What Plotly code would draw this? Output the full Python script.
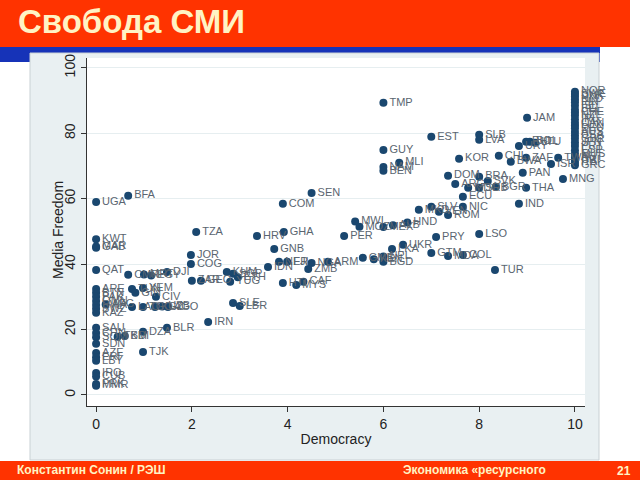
import plotly.graph_objects as go

# country codes, democracy score, media freedom score
codes = [
    "UGA", "KWT", "GAB", "MAR", "QAT", "CMR", "MRT", "EGY", "DJI",
    "ARE", "BTN", "PAK", "OMN", "RWA", "SWZ", "KAZ", "AFG",
    "TUN", "GIN", "YEM", "CIV", "LAO", "TGO", "KGZ", "UZB", "AGO",
    "SAU", "CHN", "SOM", "SDN", "BDI", "TKM", "DZA", "BLR", "TJK", "IRN",
    "AZE", "ERI", "LBY", "IRQ", "CUB", "PRK", "MMR", "BFA",
    "TZA", "JOR", "COG", "ZAR", "GEO", "YUG", "KHM", "SGP", "ETH", "SLE", "LBR",
    "HRV", "GHA", "GNB", "IDN", "NER", "FJI", "NGA", "ARM", "ZMB",
    "HTI", "MYS", "CAF", "COM", "SEN",
    "PER", "MWI", "MOZ", "MEX", "ALB", "HND",
    "GMB", "KEN", "NPL", "BGD", "LKA", "UKR",
    "TMP", "GUY", "MLI", "NAM", "BEN",
    "EST", "SLB", "LVA", "JAM", "URY", "PHL", "BOL", "LTU",
    "CHL", "KOR", "BWA", "ZAF", "TWN", "ISR", "PAN", "MNG", "THA", "BGR",
    "DOM", "BRA", "ARG", "MDG", "SRB", "SVK", "ECU", "IND", "SLV", "NIC", "ROM",
    "MKD", "VEN", "PRY", "LSO", "GTM", "MDA", "COL", "TUR",
    "NOR", "SWE", "DNK", "NLD", "FIN", "ISL", "BEL", "CHE", "NZL", "IRL",
    "CAN", "LUX", "DEU", "AUS", "USA", "GBR", "JPN", "PRT", "ESP", "MUS",
    "AUT", "CRI", "ITA", "GRC",
]
democracy = [
    0, 0, 0, 0, 0, 0.67, 1.0, 1.15, 1.48,
    0, 0, 0, 0, 0, 0, 0, 0.2,
    0.75, 0.82, 0.98, 1.25, 0.75, 0.98, 1.23, 1.38, 1.5,
    0, 0, 0, 0, 0.6, 0.45, 0.98, 1.48, 0.98, 2.34,
    0, 0, 0, 0, 0, 0, 0, 0.67,
    2.09, 1.98, 1.98, 2.0, 2.19, 2.8, 2.73, 2.86, 2.96, 2.86, 3.0,
    3.36, 3.92, 3.72, 3.59, 3.82, 3.99, 4.5, 4.84, 4.43,
    3.9, 4.18, 4.33, 3.9, 4.5,
    5.18, 5.41, 5.5, 6.0, 6.2, 6.5,
    5.57, 5.8, 6.0, 6.0, 6.18, 6.41,
    6.0, 6.0, 6.33, 6.0, 6.0,
    7.0, 8.0, 8.0, 9.0, 8.83, 8.98, 9.06, 9.17,
    8.41, 7.58, 8.66, 8.98, 9.65, 9.5, 8.91, 9.75, 8.98, 8.35,
    7.35, 8.0, 7.5, 7.77, 8.0, 8.18, 7.66, 8.83, 7.0, 7.66, 7.35,
    6.74, 7.16, 7.1, 8.0, 7.0, 7.35, 7.66, 8.33,
    10, 10, 10, 10, 10, 10, 10, 10, 10, 10,
    10, 10, 10, 10, 10, 10, 10, 10, 10, 10,
    10, 10, 10, 10,
]
media_freedom = [
    59.0, 47.6, 45.0, 45.4, 38.2, 36.7, 36.8, 36.5, 37.6,
    32.4, 31.2, 30.0, 28.7, 27.5, 26.3, 25.1, 27.6,
    32.4, 31.2, 32.7, 30.0, 26.9, 26.9, 26.9, 27.0, 26.9,
    20.5, 18.9, 17.6, 15.6, 18.0, 17.8, 19.3, 20.5, 13.1, 22.3,
    12.8, 11.5, 10.4, 6.7, 5.6, 3.3, 2.8, 60.9,
    49.8, 42.8, 40.0, 34.9, 34.9, 34.6, 37.6, 37.0, 36.0, 28.1, 27.2,
    48.6, 49.8, 44.6, 39.1, 40.7, 40.7, 40.3, 40.7, 38.5,
    34.2, 33.6, 34.6, 58.4, 61.7,
    48.6, 53.0, 51.4, 51.3, 51.9, 52.7,
    41.9, 41.5, 42.3, 40.7, 44.6, 45.9,
    89.3, 74.9, 71.0, 69.7, 68.5,
    78.9, 79.5, 78.0, 84.7, 76.1, 77.4, 77.4, 77.1,
    73.1, 72.2, 71.3, 72.5, 72.5, 70.6, 67.9, 66.0, 63.3, 63.6,
    67.0, 66.7, 64.5, 63.3, 63.3, 65.4, 60.6, 58.4, 57.5, 57.5, 55.0,
    56.6, 56.0, 48.3, 49.2, 43.4, 42.5, 42.8, 38.2,
    92.7, 92.0, 91.2, 90.3, 89.5, 88.4, 87.2, 86.3, 85.4, 84.3,
    83.2, 82.4, 81.5, 80.4, 79.3, 78.3, 77.2, 76.1, 74.8, 73.7,
    72.6, 71.8, 71.0, 70.2,
]

W, H = 640, 480
ML, MR, MT, MB = 87, 55, 58, 74
PW, PH = W - ML - MR, H - MT - MB


def fx(px):
    return (px - ML) / PW


def fy(py):
    return (H - MB - py) / PH


RED = "#FF3300"
CREAM = "#FFF3C4"
PANEL = "#E9F0F2"

fig = go.Figure()
fig.add_trace(go.Scatter(
    x=democracy, y=media_freedom, text=codes,
    mode="markers+text", textposition="middle right",
    marker=dict(color="#1A476F", size=8),
    textfont=dict(family="Liberation Sans, Arial", size=11, color="#5A6570"),
    cliponaxis=False, hoverinfo="skip"))

shapes = [
    # blue band under title bar
    dict(type="rect", xref="paper", yref="paper", x0=fx(0), x1=fx(600), y0=fy(62), y1=fy(44),
         fillcolor="#1633B8", line_width=0, layer="below"),
    # red title bar
    dict(type="rect", xref="paper", yref="paper", x0=fx(0), x1=fx(630), y0=fy(47), y1=fy(0),
         fillcolor=RED, line_width=0, layer="below"),
    # grey chart panel
    dict(type="rect", xref="paper", yref="paper", x0=fx(30), x1=fx(599), y0=fy(460), y1=fy(53),
         fillcolor=PANEL, line=dict(color="#C9D1D4", width=1), layer="below"),
    # white plot region
    dict(type="rect", xref="paper", yref="paper", x0=0, x1=1, y0=0, y1=1,
         fillcolor="white", line_width=0, layer="below"),
    # red footer bar
    dict(type="rect", xref="paper", yref="paper", x0=fx(0), x1=fx(640), y0=fy(480), y1=fy(461),
         fillcolor=RED, line_width=0, layer="below"),
]

annotations = [
    dict(text="<b>Свобода СМИ</b>", xref="paper", yref="paper", x=fx(16), y=fy(21),
         xanchor="left", yanchor="middle", showarrow=False,
         font=dict(family="Liberation Sans, Arial", size=33, color=CREAM)),
    dict(text="Media Freedom", xref="paper", yref="paper", x=fx(58), y=fy(230),
         xanchor="center", yanchor="middle", showarrow=False, textangle=-90,
         font=dict(family="Liberation Sans, Arial", size=14, color="#222222")),
    dict(text="<b>Константин Сонин / РЭШ</b>", xref="paper", yref="paper", x=fx(15), y=fy(470),
         xanchor="left", yanchor="middle", showarrow=False,
         font=dict(family="Liberation Sans, Arial", size=12, color=CREAM)),
    dict(text="<b>Экономика «ресурсного</b>", xref="paper", yref="paper", x=fx(401), y=fy(470),
         xanchor="left", yanchor="middle", showarrow=False,
         font=dict(family="Liberation Sans, Arial", size=12, color=CREAM)),
    dict(text="<b>21</b>", xref="paper", yref="paper", x=fx(615), y=fy(471),
         xanchor="left", yanchor="middle", showarrow=False,
         font=dict(family="Liberation Sans, Arial", size=12, color=CREAM)),
]

fig.update_layout(
    width=W, height=H,
    margin=dict(l=ML, r=MR, t=MT, b=MB, pad=0, autoexpand=False),
    paper_bgcolor="white", plot_bgcolor="white",
    showlegend=False,
    shapes=shapes, annotations=annotations,
    font=dict(family="Liberation Sans, Arial", color="#222222"),
    xaxis=dict(range=[-0.19, 10.21], tickvals=[0, 2, 4, 6, 8, 10],
               showgrid=False, zeroline=False, showline=True, linecolor="#333333", linewidth=1,
               ticks="outside", ticklen=5, tickcolor="#333333",
               tickfont=dict(size=14, color="#222222"),
               title=dict(text="Democracy", font=dict(size=14, color="#222222"), standoff=3)),
    yaxis=dict(range=[-3.4, 103], tickvals=[0, 20, 40, 60, 80, 100], tickangle=-90,
               showgrid=True, gridcolor="#E6EEF0", gridwidth=1,
               zeroline=False, showline=True, linecolor="#333333", linewidth=1,
               ticks="outside", ticklen=5, tickcolor="#333333",
               tickfont=dict(size=14, color="#222222")),
)

# the page has a default 8px body margin; drop it so the slide sits at the window origin
fig.write_html("out.html", config={"displayModeBar": False},
               post_script="document.body.style.margin='0';document.body.style.overflow='hidden';")
